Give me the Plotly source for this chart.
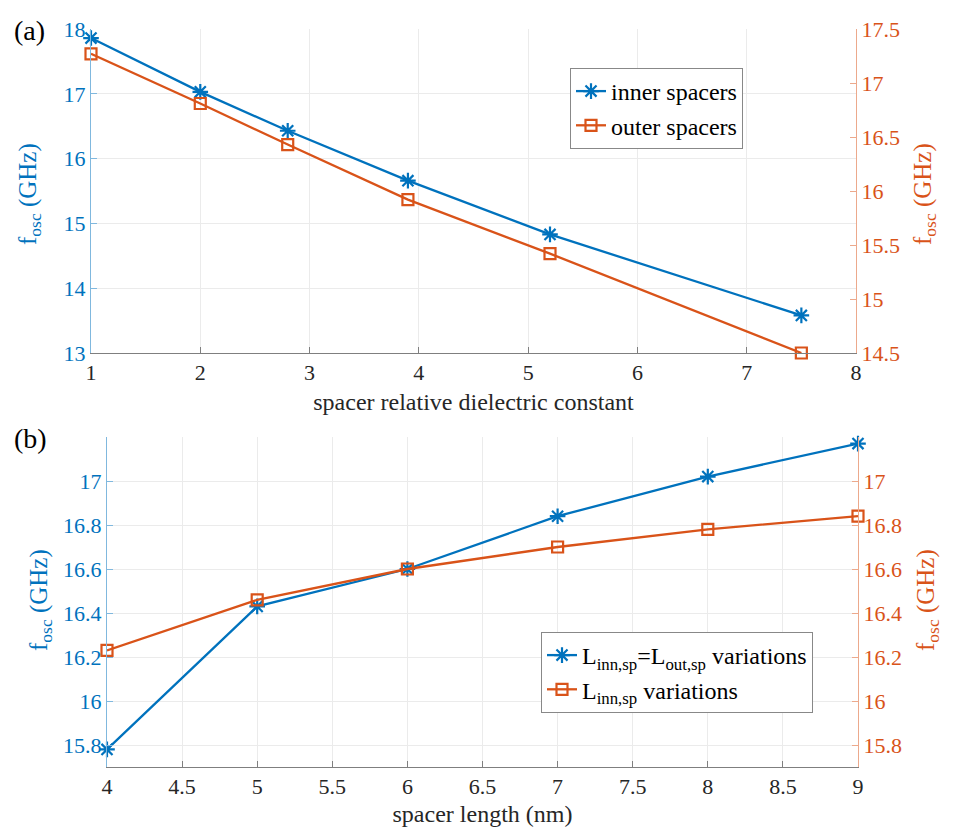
import plotly.graph_objects as go

# Panel (a)
eps_r = [1, 2, 2.8, 3.9, 5.2, 7.5]
f_inner = [17.86, 17.03, 16.43, 15.66, 14.83, 13.58]
f_outer = [17.27, 16.81, 16.43, 15.92, 15.42, 14.50]

# Panel (b)
sp_len = [4, 5, 6, 7, 8, 9]
f_both = [15.78, 16.43, 16.60, 16.84, 17.02, 17.17]
f_inn = [16.23, 16.46, 16.60, 16.70, 16.78, 16.84]

BLUE = "#0072BD"
ORANGE = "#D95319"
FONT = "Liberation Serif, Times New Roman, serif"
GRID = "#EBEBEB"
AX = "#262626"

fig = go.Figure()

fig.add_trace(go.Scatter(x=eps_r, y=f_inner, mode="lines+markers", name="inner spacers",
                         line=dict(color=BLUE, width=2.3), cliponaxis=False,
                         marker=dict(symbol="asterisk-open", size=13, line=dict(color=BLUE, width=2.2)),
                         xaxis="x", yaxis="y", legend="legend"))
fig.add_trace(go.Scatter(x=eps_r, y=f_outer, mode="lines+markers", name="outer spacers",
                         line=dict(color=ORANGE, width=2.3), cliponaxis=False,
                         marker=dict(symbol="square-open", size=11, line=dict(color=ORANGE, width=2.2)),
                         xaxis="x", yaxis="y2", legend="legend"))
fig.add_trace(go.Scatter(x=sp_len, y=f_both, mode="lines+markers",
                         name="L<sub>inn,sp</sub>=L<sub>out,sp</sub> variations",
                         line=dict(color=BLUE, width=2.3), cliponaxis=False,
                         marker=dict(symbol="asterisk-open", size=13, line=dict(color=BLUE, width=2.2)),
                         xaxis="x2", yaxis="y3", legend="legend2"))
fig.add_trace(go.Scatter(x=sp_len, y=f_inn, mode="lines+markers",
                         name="L<sub>inn,sp</sub> variations",
                         line=dict(color=ORANGE, width=2.3), cliponaxis=False,
                         marker=dict(symbol="square-open", size=11, line=dict(color=ORANGE, width=2.2)),
                         xaxis="x2", yaxis="y4", legend="legend2"))

# page body has an 8px margin; figure sized to fit the window
OFF = 8
W, H = 956 - 2 * OFF, 835 - 2 * OFF


def px(xp):
    return (xp - OFF) / W


def py(yp):
    return 1 - (yp - OFF) / H


top_dom = [py(353), py(29)]
bot_dom = [py(767), py(437)]
xa_dom = [px(91), px(856)]
xb_dom = [px(107), px(858)]

tickfont_x = dict(family=FONT, size=22, color=AX)
tickfont_b = dict(family=FONT, size=22, color=BLUE)
tickfont_o = dict(family=FONT, size=22, color=ORANGE)
title_font = dict(family=FONT, size=24, color=AX)

common_x = dict(showline=True, linecolor="#7f7f7f", linewidth=1, ticks="inside", ticklen=6,
                tickcolor="#7f7f7f", showgrid=True, gridcolor=GRID, zeroline=False,
                tickfont=tickfont_x, mirror=False, automargin=False)

yl = dict(showline=True, linecolor="#80B8DE", linewidth=1, ticks="inside", ticklen=6,
          tickcolor="#80B8DE", showgrid=True, gridcolor=GRID, zeroline=False,
          tickfont=tickfont_b, automargin=False)
yr = dict(showline=True, linecolor="#ECA98C", linewidth=1, ticks="inside", ticklen=6,
          tickcolor="#ECA98C", showgrid=False, zeroline=False, tickfont=tickfont_o,
          automargin=False, side="right")

ytitle = "f<sub>osc</sub> (GHz)"

fig.update_layout(
    width=W, height=H,
    margin=dict(l=0, r=0, t=0, b=0, autoexpand=False),
    paper_bgcolor="white", plot_bgcolor="white",
    font=dict(family=FONT, size=22, color=AX),
    showlegend=True,
    xaxis=dict(domain=xa_dom, range=[1, 8], tickvals=[1, 2, 3, 4, 5, 6, 7, 8], anchor="y",
               title=dict(text="spacer relative dielectric constant", font=title_font, standoff=8),
               **common_x),
    yaxis=dict(domain=top_dom, range=[13, 18], tickvals=[13, 14, 15, 16, 17, 18], anchor="x", **yl),
    yaxis2=dict(domain=top_dom, range=[14.5, 17.5], tickvals=[14.5, 15, 15.5, 16, 16.5, 17, 17.5],
                ticktext=["14.5", "15", "15.5", "16", "16.5", "17", "17.5"],
                anchor="x", overlaying="y", **yr),
    xaxis2=dict(domain=xb_dom, range=[4, 9], tickvals=[4, 4.5, 5, 5.5, 6, 6.5, 7, 7.5, 8, 8.5, 9], anchor="y3",
                title=dict(text="spacer length (nm)", font=title_font, standoff=8),
                **common_x),
    yaxis3=dict(domain=bot_dom, range=[15.7, 17.2], tickvals=[15.8, 16, 16.2, 16.4, 16.6, 16.8, 17],
                ticktext=["15.8", "16", "16.2", "16.4", "16.6", "16.8", "17"], anchor="x2", **yl),
    yaxis4=dict(domain=bot_dom, range=[15.7, 17.2], tickvals=[15.8, 16, 16.2, 16.4, 16.6, 16.8, 17],
                ticktext=["15.8", "16", "16.2", "16.4", "16.6", "16.8", "17"],
                anchor="x2", overlaying="y3", **yr),
    legend=dict(x=px(570), y=py(68), xanchor="left", yanchor="top",
                bgcolor="white", bordercolor="#888888", borderwidth=1,
                font=dict(family=FONT, size=24, color="black"), tracegroupgap=0, itemwidth=30),
    legend2=dict(x=px(541), y=py(632), xanchor="left", yanchor="top",
                 bgcolor="white", bordercolor="#888888", borderwidth=1,
                 font=dict(family=FONT, size=24, color="black"), tracegroupgap=0, itemwidth=30),
    annotations=[
        dict(text="(a)", x=px(12), y=py(30), xref="paper", yref="paper", xanchor="left", yanchor="middle",
             showarrow=False, font=dict(family=FONT, size=28, color="black")),
        dict(text="(b)", x=px(12), y=py(438), xref="paper", yref="paper", xanchor="left", yanchor="middle",
             showarrow=False, font=dict(family=FONT, size=28, color="black")),
        dict(text=ytitle, x=px(30), y=py(194), xref="paper", yref="paper", xanchor="center", yanchor="middle",
             textangle=-90, showarrow=False, font=dict(family=FONT, size=25, color=BLUE)),
        dict(text=ytitle, x=px(925), y=py(194), xref="paper", yref="paper", xanchor="center", yanchor="middle",
             textangle=-90, showarrow=False, font=dict(family=FONT, size=25, color=ORANGE)),
        dict(text=ytitle, x=px(40), y=py(600), xref="paper", yref="paper", xanchor="center", yanchor="middle",
             textangle=-90, showarrow=False, font=dict(family=FONT, size=25, color=BLUE)),
        dict(text=ytitle, x=px(927), y=py(600), xref="paper", yref="paper", xanchor="center", yanchor="middle",
             textangle=-90, showarrow=False, font=dict(family=FONT, size=25, color=ORANGE)),
    ],
)

fig.write_html("out.html")
